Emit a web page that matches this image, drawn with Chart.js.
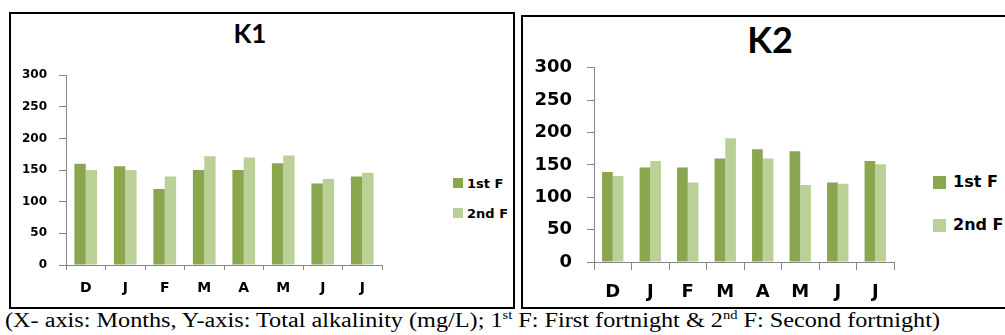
<!DOCTYPE html>
<html>
<head>
<meta charset="utf-8">
<script src="https://cdn.jsdelivr.net/npm/chart.js@4.4.1/dist/chart.umd.min.js"></script>
<style>
  html, body { margin: 0; padding: 0; background: #fff; overflow: hidden; }
  body { width: 1005px; height: 335px; position: relative; font-family: Lato, "Noto Sans", sans-serif; }
  .panel { position: absolute; box-sizing: border-box; border: 2px solid #000; background: #fff; }
  .chartbox { position: absolute; }
  .title { position: absolute; font-family: Lato, sans-serif; font-weight: bold; color: #000; transform: translate(-50%, -50%); white-space: nowrap; line-height: 1; }
  .legend { position: absolute; font-family: "DejaVu Sans", sans-serif; font-weight: bold; color: #000; }
  .legend .sw { position: absolute; }
  .legend .lbl { position: absolute; transform: translateY(-50%); }
  #caption { position: absolute; left: 5px; top: 309px; font-family: "Liberation Serif", "DejaVu Serif", serif; font-size: 20px; color: #000; white-space: nowrap; transform-origin: 0 0; }
  #caption sup { font-size: 0.6em; vertical-align: 0; position: relative; top: -0.65em; }
</style>
</head>
<body>

<div class="panel" style="left:9px; top:12px; width:506px; height:297px;"></div>
<div class="panel" style="left:521px; top:15px; width:500px; height:294px;"></div>

<div class="title" style="left:250px; top:33px; font-size:26px;">K1</div>
<div class="title" style="left:770px; top:39px; font-size:36px;">K2</div>

<div class="chartbox" style="left:16px; top:56px; width:372px; height:244px;"><canvas id="k1"></canvas></div>
<div class="chartbox" style="left:534px; top:42px; width:366px; height:260px;"><canvas id="k2"></canvas></div>

<div class="legend" id="leg1"></div>
<div class="legend" id="leg2"></div>

<div id="caption">(X- axis: Months, Y-axis: Total alkalinity (mg/L); 1<sup>st</sup> F: First fortnight &amp; 2<sup>nd</sup> F: Second fortnight)</div>

<script>
// Month initials, December to July
const months = ['D', 'J', 'F', 'M', 'A', 'M', 'J', 'J'];
const seriesNames = ['1st F', '2nd F'];
const seriesColors = ['#8AA64F', '#BBD097'];
const yTicks = [0, 50, 100, 150, 200, 250, 300];

// Total alkalinity (mg/L), station K1
const k1First  = [160, 156, 120, 150, 150, 161, 129, 140];
const k1Second = [150, 150, 140, 172, 170, 173, 136, 146];

// Total alkalinity (mg/L), station K2
const k2First  = [139, 146, 146, 160, 174, 171, 123, 156];
const k2Second = [133, 156, 123, 191, 160, 119, 121, 151];

const axisGray = '#868686';
const tickFont = 'DejaVu Sans';

function makeChart(id, first, second, s) {
  return new Chart(document.getElementById(id), {
    type: 'bar',
    data: {
      labels: months,
      datasets: [
        { label: seriesNames[0], data: first,  backgroundColor: seriesColors[0], borderWidth: 0 },
        { label: seriesNames[1], data: second, backgroundColor: seriesColors[1], borderWidth: 0 }
      ]
    },
    options: {
      responsive: true,
      maintainAspectRatio: false,
      animation: false,
      events: [],
      layout: { padding: { top: 10, right: 6, bottom: 0, left: 0 } },
      datasets: { bar: { categoryPercentage: s.catPct, barPercentage: 1.0 } },
      plugins: { legend: { display: false }, title: { display: false }, tooltip: { enabled: false } },
      scales: {
        x: {
          offset: true,
          grid: { offset: true, drawOnChartArea: false, drawTicks: true, tickLength: s.xTick, color: axisGray, lineWidth: 1 },
          border: { display: true, color: axisGray, width: 1 },
          ticks: { color: '#000', padding: s.xPad, maxRotation: 0, autoSkip: false,
                   font: { family: tickFont, size: s.xFont, weight: 'bold' } },
          afterFit: (sc) => { sc.height = s.xHeight; }
        },
        y: {
          min: 0, max: 300,
          afterBuildTicks: (sc) => { sc.ticks = yTicks.map(v => ({ value: v })); },
          grid: { drawOnChartArea: false, drawTicks: true, tickLength: s.yTick, color: axisGray, lineWidth: 1 },
          border: { display: true, color: axisGray, width: 1 },
          ticks: { color: '#000', padding: s.yPad,
                   font: { family: tickFont, size: s.yFont, weight: 'bold' } },
          afterFit: (sc) => { sc.width = s.yWidth; }
        }
      }
    }
  });
}

// Legends beside each plot
function buildLegend(id, x, ys, box, font, gap) {
  const el = document.getElementById(id);
  seriesNames.forEach((name, i) => {
    const sw = document.createElement('div');
    sw.className = 'sw';
    sw.style.cssText = `left:${x}px; top:${ys[i] - box / 2}px; width:${box}px; height:${box}px; background:${seriesColors[i]};`;
    const lbl = document.createElement('div');
    lbl.className = 'lbl';
    lbl.textContent = name;
    lbl.style.cssText = `left:${x + box + gap}px; top:${ys[i]}px; font-size:${font}px; line-height:1; white-space:nowrap;`;
    el.appendChild(sw);
    el.appendChild(lbl);
  });
}

function draw() {
  makeChart('k1', k1First, k1Second, { catPct: 0.575, xTick: 5, xPad: 10, xFont: 14, xHeight: 35, yTick: 7, yPad: 12, yFont: 12, yWidth: 50 });
  makeChart('k2', k2First, k2Second, { catPct: 0.57,  xTick: 8, xPad: 12, xFont: 18, xHeight: 40, yTick: 7, yPad: 15, yFont: 18, yWidth: 60 });

  buildLegend('leg1', 453, [182.5, 213], 10, 13, 4);
  buildLegend('leg2', 933, [182, 225], 13, 16, 7);

  // Fit the caption line to its width
  const cap = document.getElementById('caption');
  const w = cap.getBoundingClientRect().width;
  cap.style.transform = `scaleX(${935 / w})`;
}

Promise.all([
  document.fonts.load('bold 12px "DejaVu Sans"'),
  document.fonts.load('bold 26px Lato'),
  document.fonts.load('20px "Liberation Serif"')
]).then(draw, draw);
</script>
</body>
</html>
